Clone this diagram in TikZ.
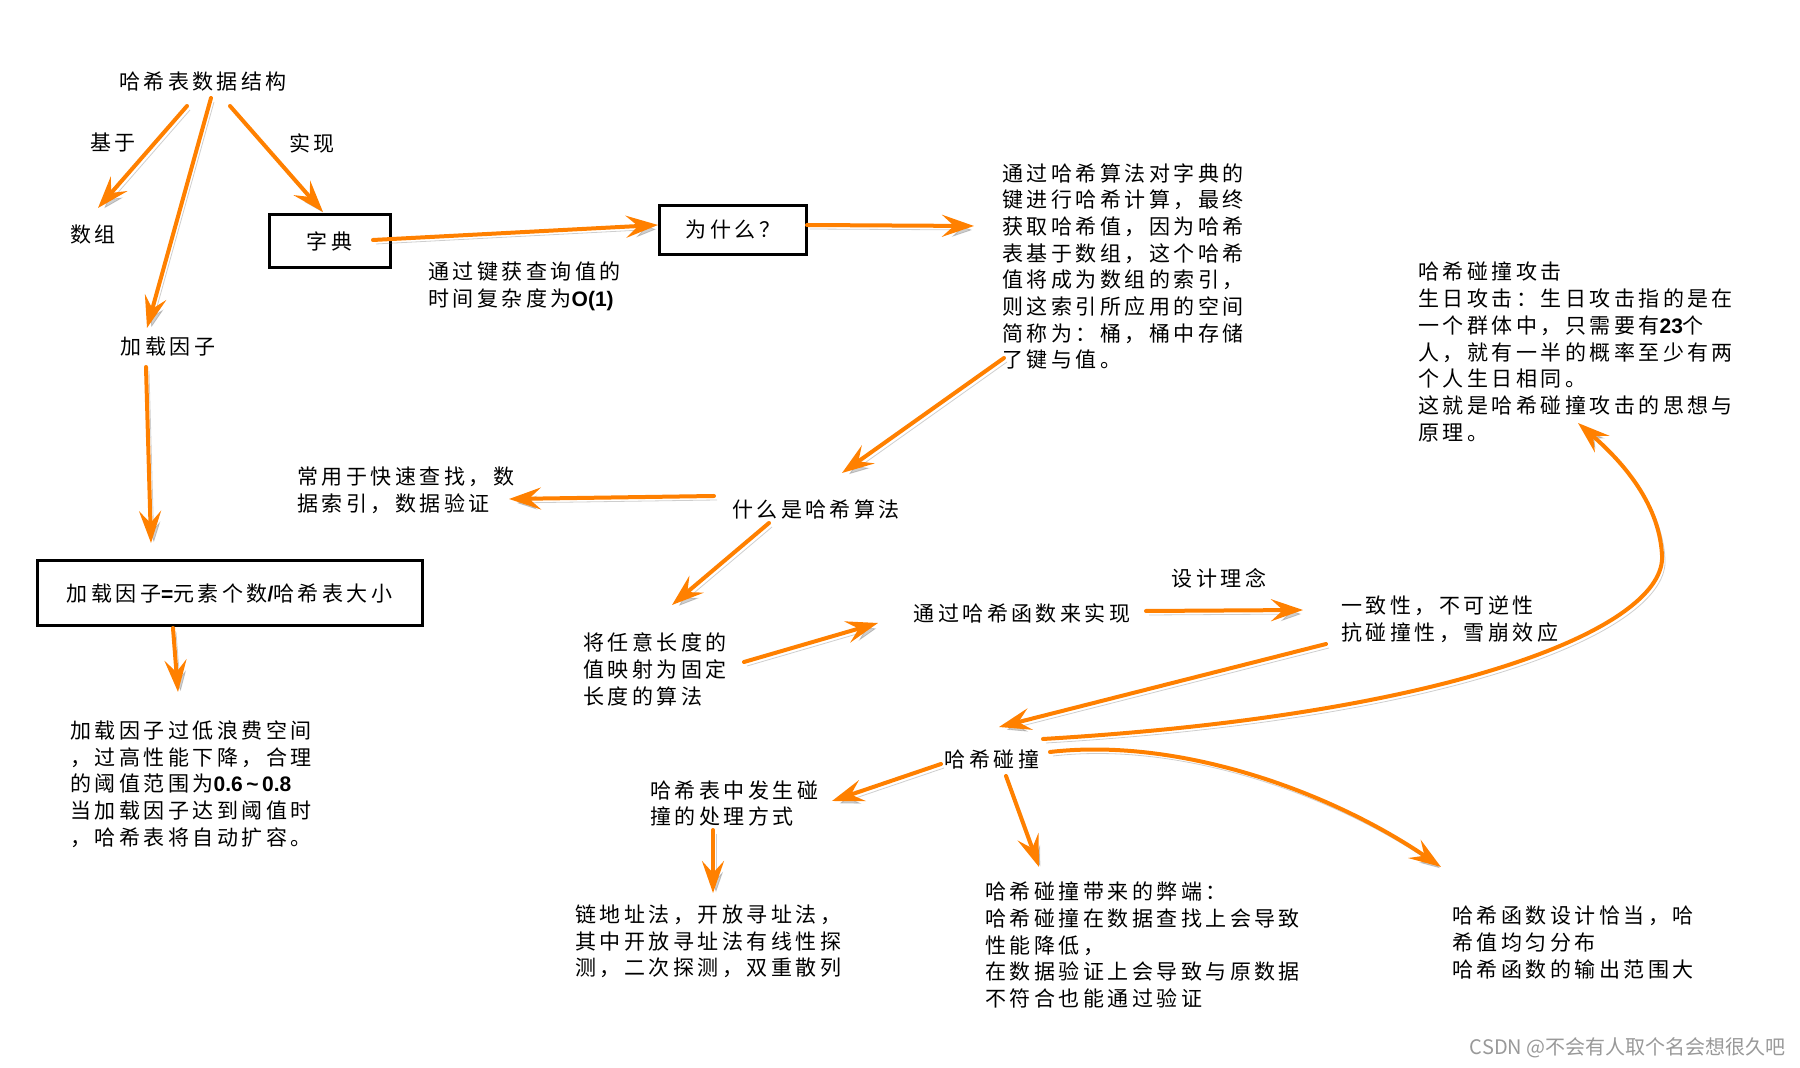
\documentclass[tikz,border=0pt]{standalone}
\usepackage{fontspec}
\newfontfamily\cjk{Noto Sans CJK SC}[LetterSpace=16.5]
\newfontfamily\cjkplain{Noto Sans CJK SC}
\newfontfamily\latinb{Liberation Sans}
\newcommand\lat[1]{{\latinb\bfseries #1}}
\usetikzlibrary{arrows.meta}
\definecolor{arrorange}{RGB}{255,128,0}
\tikzset{
  txt/.style={inner sep=0pt, align=left, font=\cjk\fontsize{10.5pt}{13.35pt}\selectfont},
  frame/.style={txt, draw, line width=1.5pt, align=center},
  arr/.style={draw=arrorange, line width=2pt, line cap=round,
    -{Stealth[length=16pt,width=11pt,inset=6pt]},
    preaction={draw=black!55, opacity=.35, transform canvas={shift={(1.5pt,-2pt)}}}}
}

\begin{document}
\begin{tikzpicture}[x=0.5pt,y=-0.5pt]
\useasboundingbox (0,0) rectangle (1800,1068);

% left branch
\node[txt] (root) at (203,82) {哈希表数据结构};
\node[txt] (jiyu) at (113,142) {基于};
\node[txt] (shixian) at (312,143) {实现};
\node[txt] (shuzu) at (93,235) {数组};
\node[txt] (jzyz) at (168,347) {加载因子};
\node[frame, minimum width=60.5pt, minimum height=26.5pt] (zidian) at (329.5,241.5) {字典};
\node[frame, minimum width=192.5pt, minimum height=32.5pt] (fzbox) at (229.5,593.5) {加载因子\lat{=}元素个数\lat{/}哈希表大小};
\node[txt, anchor=west] (guodi) at (70,784) {加载因子过低浪费空间\\，过高性能下降，合理\\的阈值范围为\lat{0.6\,\textasciitilde\,0.8}\\当加载因子达到阈值时\\，哈希表将自动扩容。};

% top row
\node[frame, minimum width=73.5pt, minimum height=24.5pt] (why) at (733,230) {为什么？};
\node[txt, anchor=west] (fuza) at (428,286.5) {通过键获查询值的\\时间复杂度为\lat{O(1)}};
\node[txt, anchor=west] (suanfa) at (1002,266.5) {通过哈希算法对字典的\\键进行哈希计算，最终\\获取哈希值，因为哈希\\表基于数组，这个哈希\\值将成为数组的索引，\\则这索引所应用的空间\\简称为：桶，桶中存储\\了键与值。};
\node[txt, anchor=west] (gongji) at (1418,352) {哈希碰撞攻击\\生日攻击：生日攻击指的是在\\一个群体中，只需要有\lat{23}个\\人，就有一半的概率至少有两\\个人生日相同。\\这就是哈希碰撞攻击的思想与\\原理。};

% middle
\node[txt, anchor=west] (changyong) at (297,490) {常用于快速查找，数\\据索引，数据验证};
\node[txt] (shenme) at (816,510) {什么是哈希算法};
\node[txt, anchor=west] (renyi) at (583,669.5) {将任意长度的\\值映射为固定\\长度的算法};
\node[txt] (hanshu) at (1022,613) {通过哈希函数来实现};
\node[txt] (sheji) at (1219,578) {设计理念};
\node[txt, anchor=west] (yizhi) at (1341,619.5) {一致性，不可逆性\\抗碰撞性，雪崩效应};
\node[txt] (pengzhuang) at (992,760) {哈希碰撞};

% bottom
\node[txt, anchor=west] (chuli) at (650,803.5) {哈希表中发生碰\\撞的处理方式};
\node[txt, anchor=west] (lianbiao) at (575,941.5) {链地址法，开放寻址法，\\其中开放寻址法有线性探\\测，二次探测，双重散列};
\node[txt, anchor=west] (bidun) at (985,945) {哈希碰撞带来的弊端：\\哈希碰撞在数据查找上会导致\\性能降低，\\在数据验证上会导致与原数据\\不符合也能通过验证};
\node[txt, anchor=west] (junyun) at (1452,942.5) {哈希函数设计恰当，哈\\希值均匀分布\\哈希函数的输出范围大};
\node[anchor=east, inner sep=0pt, text=black!40, font=\cjkplain\fontsize{10pt}{11pt}\selectfont] (csdn) at (1786,1048) {CSDN @不会有人取个名会想很久吧};

% arrows
\draw[arr] ([shift={(-16,24)}]root.center) -- ([shift={(5,-27)}]shuzu.center);
\draw[arr] ([shift={(8,16)}]root.center) -- ([shift={(-21,-19)}]jzyz.center);
\draw[arr] ([shift={(27,24)}]root.center) -- ([shift={(-6.5,-29.5)}]zidian.center);
\draw[arr] ([shift={(-22,20)}]jzyz.center) -- ([shift={(-78.5,-50.5)}]fzbox.center);
\draw[arr] ([shift={(-56.5,34.5)}]fzbox.center) -- ([shift={(108,-92)}]guodi.west);
\draw[arr] ([shift={(43.5,-1.5)}]zidian.center) -- ([shift={(-75,-5)}]why.center);
\draw[arr] ([shift={(74,-5)}]why.center) -- ([shift={(-28,-40.5)}]suanfa.west);
\draw[arr] ([shift={(2,91.5)}]suanfa.west) -- ([shift={(26,-37)}]shenme.center);
\draw[arr] ([shift={(-102,-14)}]shenme.center) -- ([shift={(212,9)}]changyong.west);
\draw[arr] ([shift={(-47,13)}]shenme.center) -- ([shift={(89,-64.5)}]renyi.west);
\draw[arr] ([shift={(161,-7.5)}]renyi.west) -- ([shift={(-144,10)}]hanshu.center);
\draw[arr] ([shift={(124,-2)}]hanshu.center) -- ([shift={(-38,-9.5)}]yizhi.west);
\draw[arr] ([shift={(-15,24.5)}]yizhi.west) -- ([shift={(7,-33)}]pengzhuang.center);
\draw[arr] ([shift={(51,-21)}]pengzhuang.center) .. controls +(420,-25) and +(5,70) .. (1662,555)
  .. controls +(-3,-55) and +(40,35) .. ([shift={(160,71)}]gongji.west);
\draw[arr] ([shift={(-51,4)}]pengzhuang.center) -- ([shift={(182,-2.5)}]chuli.west);
\draw[arr] ([shift={(63,26.5)}]chuli.west) -- ([shift={(138,-48.5)}]lianbiao.west);
\draw[arr] ([shift={(14,16)}]pengzhuang.center) -- ([shift={(54,-78)}]bidun.west);
\draw[arr] ([shift={(58,-8)}]pengzhuang.center) .. controls +(130,-15) and +(-110,-75) .. ([shift={(-11,-75.5)}]junyun.west);
\end{tikzpicture}
\end{document}
